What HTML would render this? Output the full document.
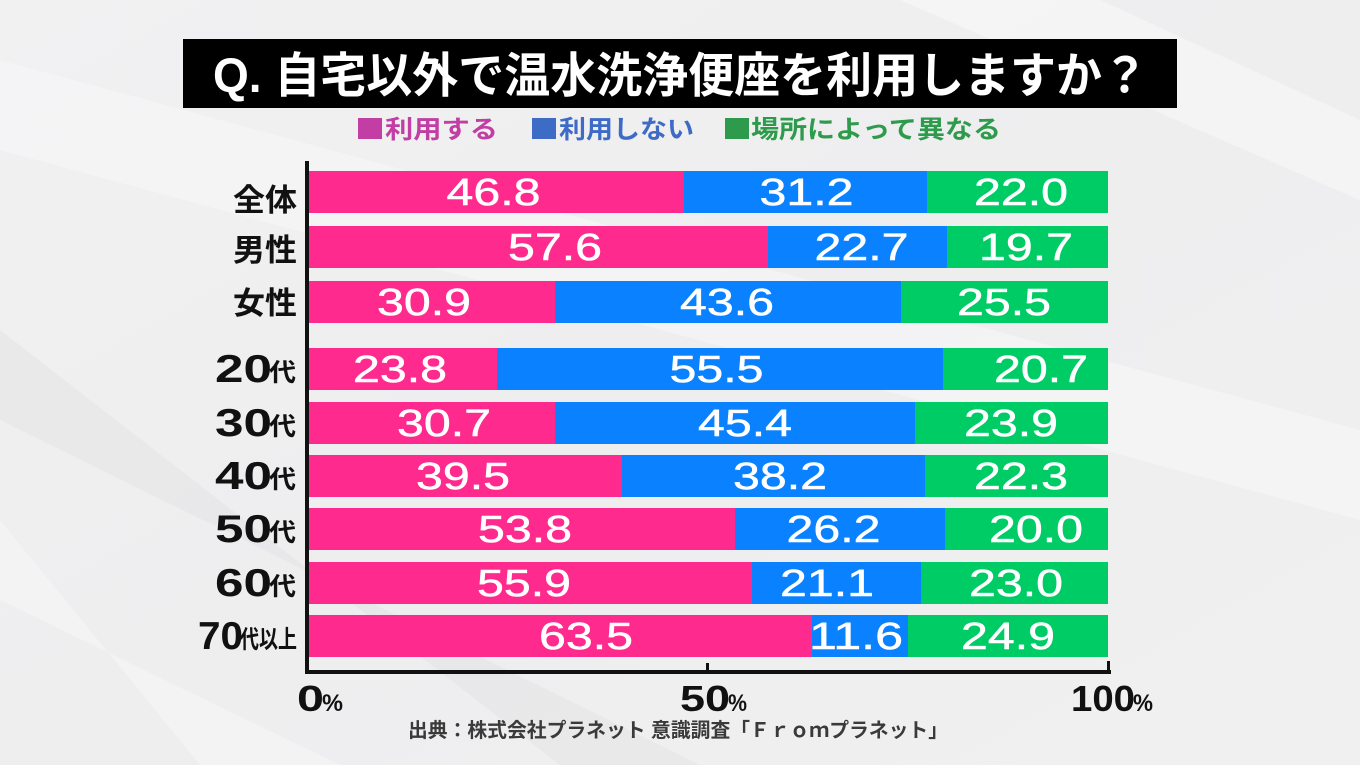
<!DOCTYPE html>
<html>
<head>
<meta charset="utf-8">
<style>
html,body{margin:0;padding:0;background:#efeff0;}
svg{display:block;}
text{font-family:"Liberation Sans","Noto Sans CJK JP",sans-serif;}
</style>
</head>
<body>
<svg width="1360" height="765" viewBox="0 0 1360 765" xmlns="http://www.w3.org/2000/svg">
  <defs>
    <linearGradient id="bg" x1="0" y1="0" x2="1" y2="1">
      <stop offset="0" stop-color="#f1f1f2"/>
      <stop offset="0.5" stop-color="#eeeeef"/>
      <stop offset="1" stop-color="#f0f0f1"/>
    </linearGradient>
  </defs>
  <rect x="0" y="0" width="1360" height="765" fill="url(#bg)"/>
  <!-- subtle diagonal streaks -->
  <polygon points="0,60 0,150 1360,520 1360,430" fill="#f7f7f8" opacity="0.6"/>
  <polygon points="0,330 0,420 700,765 560,765" fill="#e4e4e6" opacity="0.6"/>
  <polygon points="900,0 1100,0 1360,120 1360,200" fill="#f8f8f9" opacity="0.6"/>
  <polygon points="0,520 0,600 340,765 200,765" fill="#f7f7f8" opacity="0.5"/>

  <!-- Title -->
  <rect x="183" y="39" width="994" height="69" fill="#000"/>
  <text x="213" y="92" font-size="48" font-weight="700" fill="#fff" textLength="935" lengthAdjust="spacingAndGlyphs">Q. 自宅以外で温水洗浄便座を利用しますか？</text>

  <!-- Legend -->
  <rect x="358" y="118" width="24" height="21" fill="#c23ea4"/>
  <text x="385" y="138" font-size="25" font-weight="700" fill="#c23ea4" textLength="113" lengthAdjust="spacingAndGlyphs">利用する</text>
  <rect x="532" y="118" width="24" height="21" fill="#3e6bc6"/>
  <text x="559" y="138" font-size="25" font-weight="700" fill="#3e6bc6" textLength="135" lengthAdjust="spacingAndGlyphs">利用しない</text>
  <rect x="725" y="118" width="24" height="21" fill="#2e9b4c"/>
  <text x="751" y="138" font-size="25" font-weight="700" fill="#2e9b4c" textLength="250" lengthAdjust="spacingAndGlyphs">場所によって異なる</text>

  <!-- Bars -->
  <g>
    <rect x="309" y="171" width="375" height="42" fill="#ff2a8e"/>
    <rect x="684" y="171" width="243" height="42" fill="#0a82ff"/>
    <rect x="927" y="171" width="181" height="42" fill="#00cc66"/>

    <rect x="309" y="226" width="459" height="42" fill="#ff2a8e"/>
    <rect x="768" y="226" width="179" height="42" fill="#0a82ff"/>
    <rect x="947" y="226" width="161" height="42" fill="#00cc66"/>

    <rect x="309" y="281" width="246" height="42" fill="#ff2a8e"/>
    <rect x="555" y="281" width="346" height="42" fill="#0a82ff"/>
    <rect x="901" y="281" width="207" height="42" fill="#00cc66"/>

    <rect x="309" y="348" width="188" height="42" fill="#ff2a8e"/>
    <rect x="497" y="348" width="446" height="42" fill="#0a82ff"/>
    <rect x="943" y="348" width="165" height="42" fill="#00cc66"/>

    <rect x="309" y="402" width="246" height="42" fill="#ff2a8e"/>
    <rect x="555" y="402" width="360" height="42" fill="#0a82ff"/>
    <rect x="915" y="402" width="193" height="42" fill="#00cc66"/>

    <rect x="309" y="455" width="313" height="42" fill="#ff2a8e"/>
    <rect x="622" y="455" width="303" height="42" fill="#0a82ff"/>
    <rect x="925" y="455" width="183" height="42" fill="#00cc66"/>

    <rect x="309" y="508" width="426" height="42" fill="#ff2a8e"/>
    <rect x="735" y="508" width="210" height="42" fill="#0a82ff"/>
    <rect x="945" y="508" width="163" height="42" fill="#00cc66"/>

    <rect x="309" y="562" width="443" height="42" fill="#ff2a8e"/>
    <rect x="752" y="562" width="169" height="42" fill="#0a82ff"/>
    <rect x="921" y="562" width="187" height="42" fill="#00cc66"/>

    <rect x="309" y="615" width="503" height="42" fill="#ff2a8e"/>
    <rect x="812" y="615" width="96" height="42" fill="#0a82ff"/>
    <rect x="908" y="615" width="200" height="42" fill="#00cc66"/>
  </g>

  <!-- Bar values -->
  <g font-size="38" fill="#fff" stroke="#fff" stroke-width="0.5">
    <text x="446.5" y="205" textLength="94" lengthAdjust="spacingAndGlyphs">46.8</text>
    <text x="759.5" y="205" textLength="94" lengthAdjust="spacingAndGlyphs">31.2</text>
    <text x="974" y="205" textLength="94" lengthAdjust="spacingAndGlyphs">22.0</text>

    <text x="508" y="260" textLength="94" lengthAdjust="spacingAndGlyphs">57.6</text>
    <text x="814.5" y="260" textLength="94" lengthAdjust="spacingAndGlyphs">22.7</text>
    <text x="979" y="260" textLength="94" lengthAdjust="spacingAndGlyphs">19.7</text>

    <text x="377" y="315" textLength="94" lengthAdjust="spacingAndGlyphs">30.9</text>
    <text x="680" y="315" textLength="94" lengthAdjust="spacingAndGlyphs">43.6</text>
    <text x="957" y="315" textLength="94" lengthAdjust="spacingAndGlyphs">25.5</text>

    <text x="353" y="382" textLength="94" lengthAdjust="spacingAndGlyphs">23.8</text>
    <text x="669.5" y="382" textLength="94" lengthAdjust="spacingAndGlyphs">55.5</text>
    <text x="994" y="382" textLength="94" lengthAdjust="spacingAndGlyphs">20.7</text>

    <text x="397" y="436" textLength="94" lengthAdjust="spacingAndGlyphs">30.7</text>
    <text x="698" y="436" textLength="94" lengthAdjust="spacingAndGlyphs">45.4</text>
    <text x="964" y="436" textLength="94" lengthAdjust="spacingAndGlyphs">23.9</text>

    <text x="416" y="489" textLength="94" lengthAdjust="spacingAndGlyphs">39.5</text>
    <text x="733" y="489" textLength="94" lengthAdjust="spacingAndGlyphs">38.2</text>
    <text x="974" y="489" textLength="94" lengthAdjust="spacingAndGlyphs">22.3</text>

    <text x="478" y="542" textLength="94" lengthAdjust="spacingAndGlyphs">53.8</text>
    <text x="786.5" y="542" textLength="94" lengthAdjust="spacingAndGlyphs">26.2</text>
    <text x="989" y="542" textLength="94" lengthAdjust="spacingAndGlyphs">20.0</text>

    <text x="477" y="596" textLength="94" lengthAdjust="spacingAndGlyphs">55.9</text>
    <text x="780" y="596" textLength="94" lengthAdjust="spacingAndGlyphs">21.1</text>
    <text x="969" y="596" textLength="94" lengthAdjust="spacingAndGlyphs">23.0</text>

    <text x="539" y="649" textLength="94" lengthAdjust="spacingAndGlyphs">63.5</text>
    <text x="809" y="649" textLength="94" lengthAdjust="spacingAndGlyphs">11.6</text>
    <text x="961" y="649" textLength="94" lengthAdjust="spacingAndGlyphs">24.9</text>
  </g>

  <!-- Row labels -->
  <g font-weight="700" fill="#111">
    <text x="233" y="211" font-size="31" textLength="64" lengthAdjust="spacingAndGlyphs">全体</text>
    <text x="233" y="261" font-size="31" textLength="64" lengthAdjust="spacingAndGlyphs">男性</text>
    <text x="233" y="314" font-size="31" textLength="64" lengthAdjust="spacingAndGlyphs">女性</text>

    <text x="215" y="382" font-size="39" textLength="57" lengthAdjust="spacingAndGlyphs">20</text>
    <text x="269" y="381" font-size="25" textLength="27" lengthAdjust="spacingAndGlyphs">代</text>

    <text x="215" y="436" font-size="39" textLength="57" lengthAdjust="spacingAndGlyphs">30</text>
    <text x="269" y="435" font-size="25" textLength="27" lengthAdjust="spacingAndGlyphs">代</text>

    <text x="215" y="489" font-size="39" textLength="57" lengthAdjust="spacingAndGlyphs">40</text>
    <text x="269" y="488" font-size="25" textLength="27" lengthAdjust="spacingAndGlyphs">代</text>

    <text x="215" y="542" font-size="39" textLength="57" lengthAdjust="spacingAndGlyphs">50</text>
    <text x="269" y="541" font-size="25" textLength="27" lengthAdjust="spacingAndGlyphs">代</text>

    <text x="215" y="596" font-size="39" textLength="57" lengthAdjust="spacingAndGlyphs">60</text>
    <text x="269" y="595" font-size="25" textLength="27" lengthAdjust="spacingAndGlyphs">代</text>

    <text x="198" y="649" font-size="39" textLength="45" lengthAdjust="spacingAndGlyphs">70</text>
    <text x="240" y="648" font-size="25" textLength="57" lengthAdjust="spacingAndGlyphs">代以上</text>
  </g>

  <!-- Axes -->
  <rect x="305" y="161" width="4" height="513" fill="#111"/>
  <rect x="305" y="670" width="806" height="4" fill="#111"/>
  <rect x="706" y="663" width="3" height="8" fill="#111"/>
  <rect x="1107" y="661" width="3" height="10" fill="#111"/>

  <!-- Tick labels -->
  <g font-weight="700" fill="#111">
    <text x="297" y="711" font-size="36" textLength="27" lengthAdjust="spacingAndGlyphs">0</text>
    <text x="322" y="711" font-size="24" textLength="21" lengthAdjust="spacingAndGlyphs">%</text>

    <text x="680" y="711" font-size="36" textLength="50" lengthAdjust="spacingAndGlyphs">50</text>
    <text x="728" y="711" font-size="24" textLength="19" lengthAdjust="spacingAndGlyphs">%</text>

    <text x="1071" y="711" font-size="36" textLength="64" lengthAdjust="spacingAndGlyphs">100</text>
    <text x="1133" y="711" font-size="24" textLength="20" lengthAdjust="spacingAndGlyphs">%</text>
  </g>

  <!-- Source -->
  <text x="408" y="737" font-size="20" font-weight="700" fill="#3a3a3a" textLength="540" lengthAdjust="spacingAndGlyphs">出典：株式会社プラネット 意識調査「Ｆｒｏｍプラネット」</text>
</svg>
</body>
</html>
